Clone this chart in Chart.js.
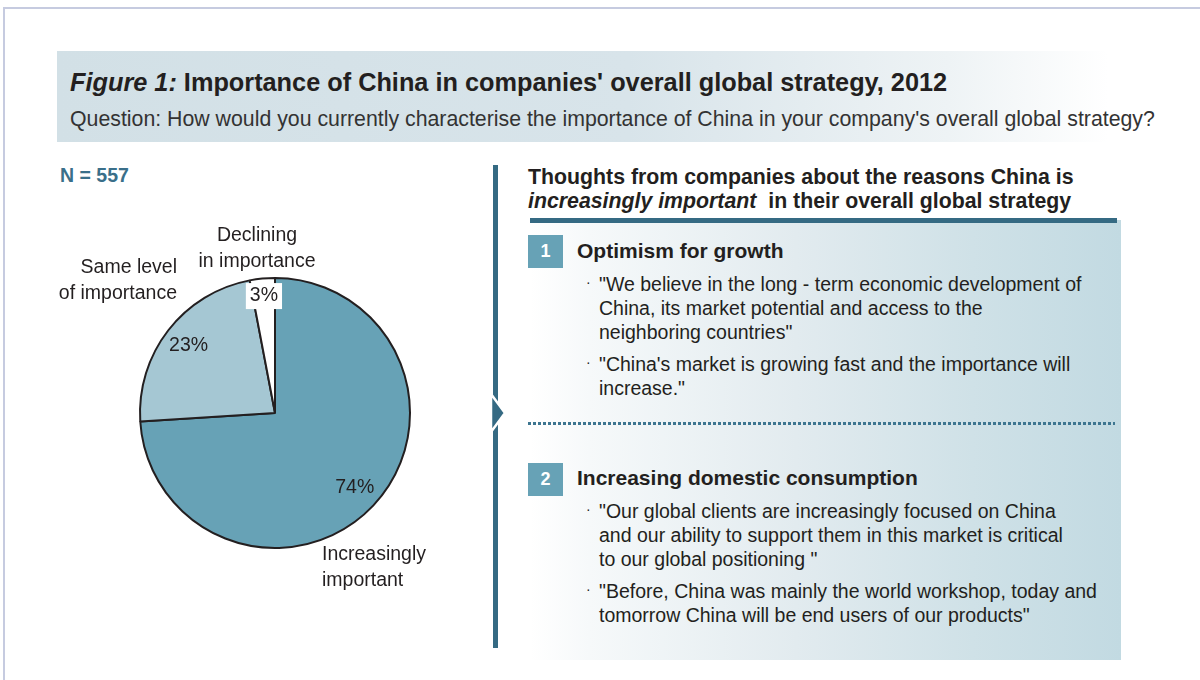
<!DOCTYPE html>
<html>
<head>
<meta charset="utf-8">
<script src="https://cdn.jsdelivr.net/npm/chart.js@4.4.1/dist/chart.umd.min.js"></script>
<style>
  html, body { margin: 0; padding: 0; background: #fff; }
  body { width: 1200px; height: 680px; position: relative; overflow: hidden;
         font-family: "Liberation Sans", Arial, sans-serif; color: #231f20; }
  .abs { position: absolute; white-space: nowrap; }
  #frame { left: 3px; top: 7px; width: 1300px; height: 800px; border-left: 2px solid #c6cbe0; border-top: 2px solid #c6cbe0; }
  #band { left: 57px; top: 51px; width: 1143px; height: 91px;
          background: linear-gradient(to right, #d2e0e6 0%, #d8e4ea 50%, #eef3f5 78%, #ffffff 92%); }
  #title { left: 70px; top: 68px; font-size: 25.3px; font-weight: bold; }
  #subtitle { left: 70px; top: 107px; font-size: 21.3px; color: #333; }
  #nval { left: 60px; top: 164px; font-size: 19.5px; font-weight: bold; color: #3a6f8a; }
  #pieWrap { left: 40px; top: 210px; width: 440px; height: 400px; }
  #vline { left: 493px; top: 165px; width: 5px; height: 483px; background: #356a83; }
  #arrow { left: 486px; top: 388px; }
  #panel { left: 530px; top: 220px; width: 591px; height: 440px;
           background: linear-gradient(to right, #ffffff 0%, #f6f9fa 10%, #e2ebef 45%, #cfe1e7 75%, #c2dae2 100%); }
  #rule { left: 530px; top: 218px; width: 587px; height: 5px; background: #356a83; }
  #head { left: 528px; top: 165px; font-size: 21.3px; font-weight: bold; line-height: 24px; }
  .numbox { width: 35px; height: 33px; background: #67a2b6; color: #fff; font-size: 18px; font-weight: bold;
            text-align: center; line-height: 33px; }
  .sechead { font-size: 21px; font-weight: bold; line-height: 24px; }
  .quote { font-size: 19.5px; line-height: 24px; color: #231f20; }
  .dot { font-size: 14px; }
  #dots { left: 528px; top: 422px; width: 587px; height: 3px;
          background: repeating-linear-gradient(to right, #3d7590 0px, #3d7590 3px, transparent 3px, transparent 5px); }
</style>
</head>
<body>
<div id="frame" class="abs"></div>
<div id="band" class="abs"></div>
<div id="title" class="abs"><i>Figure 1:</i> Importance of China in companies' overall global strategy, 2012</div>
<div id="subtitle" class="abs">Question: How would you currently characterise the importance of China in your company's overall global strategy?</div>
<div id="nval" class="abs">N = 557</div>

<div id="pieWrap" class="abs"><canvas id="pie" width="440" height="400"></canvas></div>

<div id="vline" class="abs"></div>
<svg id="arrow" class="abs" width="24" height="50">
  <polygon points="5,6 19,25 5,44" fill="#356a83" stroke="#ffffff" stroke-width="2.5" stroke-linejoin="miter"/>
</svg>

<div id="panel" class="abs"></div>
<div id="rule" class="abs"></div>
<div id="head" class="abs">Thoughts from companies about the reasons China is<br><i>increasingly important</i>&nbsp; in their overall global strategy</div>

<div class="abs numbox" style="left:528px; top:235px;">1</div>
<div class="abs sechead" style="left:577px; top:239px;">Optimism for growth</div>
<div class="abs dot" style="left:586px; top:274px;">·</div>
<div class="abs quote" style="left:599px; top:272px;">"We believe in the long - term economic development of<br>China, its market potential and access to the<br>neighboring countries"</div>
<div class="abs dot" style="left:586px; top:354px;">·</div>
<div class="abs quote" style="left:599px; top:352px;">"China's market is growing fast and the importance will<br>increase."</div>

<div id="dots" class="abs"></div>

<div class="abs numbox" style="left:528px; top:463px;">2</div>
<div class="abs sechead" style="left:577px; top:466px;">Increasing domestic consumption</div>
<div class="abs dot" style="left:586px; top:501px;">·</div>
<div class="abs quote" style="left:599px; top:499px;">"Our global clients are increasingly focused on China<br>and our ability to support them in this market is critical<br>to our global positioning "</div>
<div class="abs dot" style="left:586px; top:581px;">·</div>
<div class="abs quote" style="left:599px; top:579px;">"Before, China was mainly the world workshop, today and<br>tomorrow China will be end users of our products"</div>

<script>
// Survey answers, N = 557
const categories = ['Increasingly important', 'Same level of importance', 'Declining in importance'];
const categoryLines = [['Increasingly', 'important'], ['Same level', 'of importance'], ['Declining', 'in importance']];
const shares = [74, 23, 3];
const sliceColors = ['#67a2b6', '#a5c7d3', '#ffffff'];

// Draws the percentage inside each slice and the category captions around the pie
const sliceLabels = {
  id: 'sliceLabels',
  afterDatasetsDraw(chart) {
    const ctx = chart.ctx;
    const meta = chart.getDatasetMeta(0);
    ctx.save();
    ctx.font = '19.5px "Liberation Sans", Arial, sans-serif';
    ctx.fillStyle = '#231f20';
    ctx.textBaseline = 'middle';
    meta.data.forEach((arc, i) => {
      const mid = (arc.startAngle + arc.endAngle) / 2;
      const R = arc.outerRadius;
      const f = i === 2 ? 0.87 : 0.81;
      const x = arc.x + Math.cos(mid) * R * f;
      const y = arc.y + Math.sin(mid) * R * f;
      const txt = shares[i] + '%';
      const w = ctx.measureText(txt).width;
      if (i === 2) {
        ctx.fillStyle = '#ffffff';
        ctx.fillRect(x - w / 2 - 4, y - 13, w + 8, 26);
        ctx.fillStyle = '#231f20';
      }
      ctx.textAlign = 'center';
      ctx.fillText(txt, x, y);

      // caption outside the pie
      const lines = categoryLines[i];
      let ax, ay, align;
      if (i === 0) { ax = arc.x + 47; ay = arc.y + 142; align = 'left'; }
      else if (i === 1) { ax = arc.x - 98; ay = arc.y - 145; align = 'right'; }
      else { ax = arc.x - 18; ay = arc.y - 177; align = 'center'; }
      ctx.textAlign = align;
      lines.forEach((ln, k) => ctx.fillText(ln, ax, ay + k * 25.5));
    });
    ctx.restore();
  }
};

new Chart(document.getElementById('pie'), {
  type: 'pie',
  data: {
    labels: categories,
    datasets: [{
      data: shares,
      backgroundColor: sliceColors,
      borderColor: '#231f20',
      borderWidth: 2,
      hoverOffset: 0
    }]
  },
  options: {
    responsive: false,
    animation: false,
    events: [],
    layout: { padding: { left: 99, right: 69, top: 67, bottom: 61 } },
    rotation: 0,
    plugins: {
      legend: { display: false },
      tooltip: { enabled: false }
    }
  },
  plugins: [sliceLabels]
});
</script>
</body>
</html>
